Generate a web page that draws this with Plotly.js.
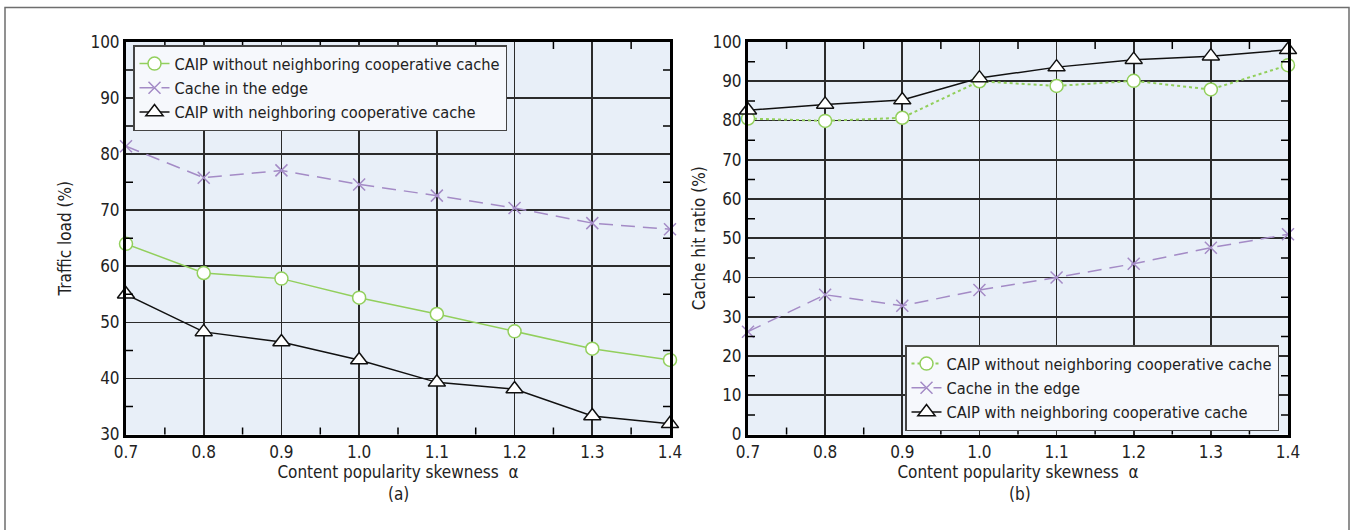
<!DOCTYPE html>
<html>
<head>
<meta charset="utf-8">
<script src="https://cdn.plot.ly/plotly-3.0.1.min.js"></script>
<style>
  html, body { margin: 0; padding: 0; background: #ffffff; }
  #chart { width: 1358px; height: 530px; }
</style>
</head>
<body>
<div id="chart"></div>
<script>
// ---- data ----
const alpha = [0.7, 0.8, 0.9, 1.0, 1.1, 1.2, 1.3, 1.4];
const xTickLabels = ['0.7', '0.8', '0.9', '1.0', '1.1', '1.2', '1.3', '1.4'];
const xMinorTicks = [0.75, 0.85, 0.95, 1.05, 1.15, 1.25, 1.35];
const yMinorTicksA = [35, 45, 55, 65, 75, 85, 95];
const yMinorTicksB = [5, 15, 25, 35, 45, 55, 65, 75, 85, 95];

const seriesNames = [
  'CAIP without neighboring cooperative cache',
  'Cache in the edge',
  'CAIP with neighboring cooperative cache'
];

// (a) Traffic load (%)
const trafficWithout = [64.0, 58.8, 57.8, 54.4, 51.5, 48.4, 45.3, 43.3];
const trafficEdge    = [81.4, 75.8, 77.1, 74.6, 72.6, 70.4, 67.7, 66.6];
const trafficWith    = [55.0, 48.3, 46.5, 43.3, 39.3, 38.1, 33.3, 31.9];

// (b) Cache hit ratio (%)
const hitWithout = [80.5, 79.9, 80.7, 90.0, 88.8, 90.1, 87.9, 94.1];
const hitEdge    = [26.2, 35.6, 32.8, 36.8, 40.0, 43.5, 47.6, 51.0];
const hitWith    = [82.6, 84.1, 85.2, 90.8, 93.6, 95.5, 96.4, 98.0];

// ---- styles ----
const FONT = '"DejaVu Sans Condensed", "Liberation Sans Narrow", "Arial Narrow", sans-serif';
const GREEN = '#92cf5c';
const PURPLE = '#a48bc6';
const BLACK = '#111111';
const TXT = '#222222';
const W = 1358, H = 530;

function px2x(p) { return p / W; }
function px2y(p) { return 1 - p / H; }

function greenTrace(y, xa, ya, dash, leg) {
  return {
    x: alpha, y: y, xaxis: xa, yaxis: ya, name: seriesNames[0], legend: leg,
    type: 'scatter', mode: 'lines+markers',
    line: { color: GREEN, width: dash === 'solid' ? 1.5 : 2, dash: dash },
    marker: { symbol: 'circle', size: 13, color: '#ffffff', line: { color: GREEN, width: 1.5 } },
    cliponaxis: false
  };
}
function edgeTrace(y, xa, ya, leg) {
  return {
    x: alpha, y: y, xaxis: xa, yaxis: ya, name: seriesNames[1], legend: leg,
    type: 'scatter', mode: 'lines+markers',
    line: { color: PURPLE, width: 1.5, dash: '14px,8px' },
    marker: { symbol: 'x-thin', size: 12, color: PURPLE, line: { color: PURPLE, width: 1.5 } },
    cliponaxis: false
  };
}
function withTrace(y, xa, ya, leg) {
  return {
    x: alpha, y: y, xaxis: xa, yaxis: ya, name: seriesNames[2], legend: leg,
    type: 'scatter', mode: 'lines+markers',
    line: { color: BLACK, width: 1.5 },
    marker: { symbol: 'triangle-up', size: 15, color: '#ffffff', line: { color: BLACK, width: 1.5 } },
    cliponaxis: false
  };
}

const traces = [
  greenTrace(trafficWithout, 'x', 'y', 'solid', 'legend'),
  edgeTrace(trafficEdge, 'x', 'y', 'legend'),
  withTrace(trafficWith, 'x', 'y', 'legend'),
  greenTrace(hitWithout, 'x2', 'y2', 'dot', 'legend2'),
  edgeTrace(hitEdge, 'x2', 'y2', 'legend2'),
  withTrace(hitWith, 'x2', 'y2', 'legend2')
];

const GRIDC = '#2b2b2b';
const GRIDW = 1.6;

function xAxis(domain, anchor) {
  return {
    domain: domain, anchor: anchor,
    range: [0.7, 1.4], tickmode: 'array', tickvals: alpha, ticktext: xTickLabels,
    showgrid: true, gridcolor: GRIDC, gridwidth: GRIDW,
    showline: true, linecolor: '#000000', linewidth: 3, mirror: true,
    ticks: '', zeroline: false,
    tickfont: { family: FONT, size: 17, color: TXT },
    title: { text: 'Content popularity skewness  α', font: { family: FONT, size: 17, color: TXT }, standoff: 5 },
    automargin: false, fixedrange: true
  };
}
function yAxis(domain, anchor, range, dtick, title, standoff) {
  return {
    domain: domain, anchor: anchor,
    range: range, dtick: dtick, tick0: 0,
    showgrid: true, gridcolor: GRIDC, gridwidth: GRIDW,
    showline: true, linecolor: '#000000', linewidth: 3, mirror: true,
    ticks: '', zeroline: false,
    tickfont: { family: FONT, size: 17, color: TXT },
    title: { text: title, font: { family: FONT, size: 17, color: TXT }, standoff: standoff },
    automargin: false, fixedrange: true
  };
}

// minor tick marks along all four plot edges, built from the minor tick arrays
const TICKLEN = 7;
function minorTickShapes(xa, ya, yMinor) {
  const out = [];
  const tick = { type: 'line', line: { color: '#000000', width: 1.5 }, layer: 'above' };
  xMinor.forEach(function (v) {
    [[0, TICKLEN], [1, -TICKLEN]].forEach(function (s) {
      out.push(Object.assign({}, tick, {
        xref: xa, yref: ya + ' domain', x0: v, x1: v,
        ysizemode: 'pixel', yanchor: s[0], y0: 0, y1: s[1]
      }));
    });
  });
  yMinor.forEach(function (v) {
    [[0, TICKLEN], [1, -TICKLEN]].forEach(function (s) {
      out.push(Object.assign({}, tick, {
        yref: ya, xref: xa + ' domain', y0: v, y1: v,
        xsizemode: 'pixel', xanchor: s[0], x0: 0, x1: s[1]
      }));
    });
  });
  return out;
}
const xMinor = xMinorTicks;

const yDom = [px2y(434.5), px2y(42)];

const legendStyle = {
  bgcolor: '#f6f8fc', bordercolor: '#444444', borderwidth: 1.5,
  font: { family: FONT, size: 16.3, color: TXT },
  tracegroupgap: 0, itemwidth: 30
};

const frame = { type: 'rect', xref: 'paper', yref: 'paper', x0: px2x(5), x1: px2x(1349), y0: -0.05, y1: px2y(7.5),
  line: { color: '#6e6e6e', width: 1.5 }, fillcolor: 'rgba(0,0,0,0)', layer: 'below' };

const layout = {
  width: W, height: H,
  margin: { l: 0, r: 0, t: 0, b: 0 },
  paper_bgcolor: '#ffffff',
  plot_bgcolor: '#e8eff8',
  showlegend: true,
  xaxis: xAxis([px2x(126), px2x(670)], 'y'),
  yaxis: yAxis(yDom, 'x', [30, 100], 10, 'Traffic load (%)', 15),
  xaxis2: xAxis([px2x(748), px2x(1288)], 'y2'),
  yaxis2: yAxis(yDom, 'x2', [0, 100], 10, 'Cache hit ratio (%)', 3),
  legend: Object.assign({ x: px2x(133), y: px2y(45), xanchor: 'left', yanchor: 'top' }, legendStyle),
  legend2: Object.assign({ x: px2x(905), y: px2y(431), xanchor: 'left', yanchor: 'bottom' }, legendStyle),
  shapes: [frame].concat(minorTickShapes('x', 'y', yMinorTicksA), minorTickShapes('x2', 'y2', yMinorTicksB)),
  annotations: [
    { text: '(a)', xref: 'paper', yref: 'paper', x: px2x(398), y: px2y(494), xanchor: 'center', yanchor: 'middle',
      showarrow: false, font: { family: FONT, size: 17, color: TXT } },
    { text: '(b)', xref: 'paper', yref: 'paper', x: px2x(1020), y: px2y(494), xanchor: 'center', yanchor: 'middle',
      showarrow: false, font: { family: FONT, size: 17, color: TXT } }
  ]
};

Plotly.newPlot('chart', traces, layout, { displayModeBar: false, staticPlot: true });
</script>
</body>
</html>
